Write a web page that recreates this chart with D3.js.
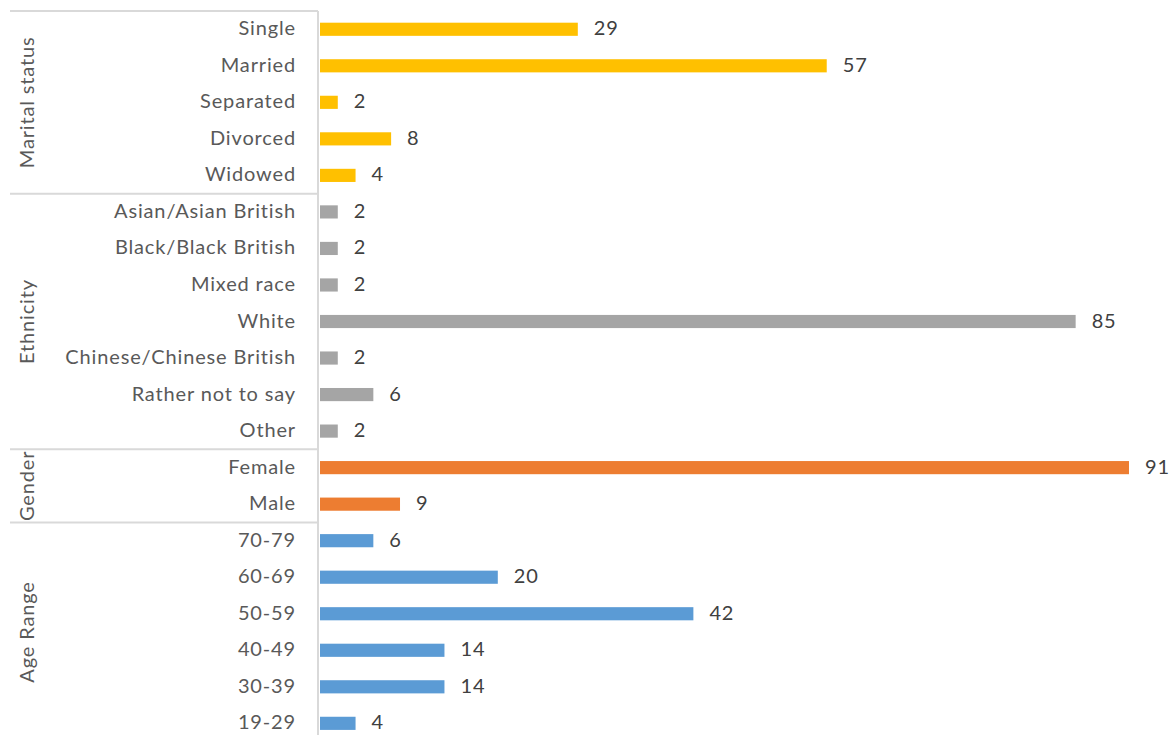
<!DOCTYPE html>
<html>
<head>
<meta charset="utf-8">
<script src="https://cdn.jsdelivr.net/npm/d3@7"></script>
<style>
  body { margin: 0; background: #fff; }
  svg text { font-family: Lato, "Noto Sans", sans-serif; letter-spacing: 0.85px; }
</style>
</head>
<body>
<div id="chart"></div>
<script>
const w = 1173;
const h = 735;

// groups, top to bottom
const groupNames = ["Marital status", "Ethnicity", "Gender", "Age Range"];
const groupColors = ["#FFC000", "#A5A5A5", "#ED7D31", "#5B9BD5"];

const maritalCats = ["Single", "Married", "Separated", "Divorced", "Widowed"];
const maritalVals = [29, 57, 2, 8, 4];

const ethnicCats = ["Asian/Asian British", "Black/Black British", "Mixed race", "White",
    "Chinese/Chinese British", "Rather not to say", "Other"];
const ethnicVals = [2, 2, 2, 85, 2, 6, 2];

const genderCats = ["Female", "Male"];
const genderVals = [91, 9];

const ageCats = ["70-79", "60-69", "50-59", "40-49", "30-39", "19-29"];
const ageVals = [6, 20, 42, 14, 14, 4];

const groupCats = [maritalCats, ethnicCats, genderCats, ageCats];
const groupVals = [maritalVals, ethnicVals, genderVals, ageVals];

// flatten into rows
var rows = [];
groupCats.forEach(function(cats, g) {
    cats.forEach(function(c, i) {
        rows.push({ cat: c, value: groupVals[g][i], group: g });
    });
});

const plotTop = 11;
const axisX = 318;
const step = 36.53;

var svg = d3.select("#chart").append("svg")
    .attr("width", w)
    .attr("height", h);

var y = d3.scaleBand()
    .domain(rows.map(d => d.cat))
    .range([plotTop, plotTop + step * rows.length])
    .paddingInner(0.64)
    .paddingOuter(0.32);

var x = d3.scaleLinear()
    .domain([0, 100])
    .range([axisX + 2, axisX + 2 + 889]);

// group separators
var bounds = [];
var idx = 0;
groupCats.forEach(function(cats) {
    bounds.push({ start: idx, end: idx + cats.length });
    idx += cats.length;
});

var rowTop = i => plotTop + step * i;

svg.append("g").selectAll("line")
    .data(bounds)
    .join("line")
    .attr("x1", 10)
    .attr("x2", axisX)
    .attr("y1", d => rowTop(d.start))
    .attr("y2", d => rowTop(d.start))
    .attr("stroke", "#d9d9d9")
    .attr("stroke-width", 2);

// axis line
svg.append("line")
    .attr("x1", axisX).attr("x2", axisX)
    .attr("y1", plotTop).attr("y2", h)
    .attr("stroke", "#d9d9d9")
    .attr("stroke-width", 2);

// group labels
svg.append("g").selectAll("text")
    .data(bounds)
    .join("text")
    .attr("transform", function(d, i) {
        var cy = (rowTop(d.start) + rowTop(d.end)) / 2;
        return "translate(34," + cy + ") rotate(-90)";
    })
    .attr("text-anchor", "middle")
    .attr("font-size", 20)
    .attr("fill", "#595959")
    .text((d, i) => groupNames[i]);

// category labels
svg.append("g").selectAll("text")
    .data(rows)
    .join("text")
    .attr("x", 296)
    .attr("y", d => y(d.cat) + y.bandwidth() / 2 - 1)
    .attr("dy", "0.35em")
    .attr("text-anchor", "end")
    .attr("font-size", 20)
    .attr("fill", "#595959")
    .text(d => d.cat);

// bars
svg.append("g").selectAll("rect")
    .data(rows)
    .join("rect")
    .attr("x", x(0))
    .attr("y", d => y(d.cat))
    .attr("width", d => x(d.value) - x(0))
    .attr("height", y.bandwidth())
    .attr("fill", d => groupColors[d.group]);

// value labels
svg.append("g").selectAll("text")
    .data(rows)
    .join("text")
    .attr("x", d => x(d.value) + 16)
    .attr("y", d => y(d.cat) + y.bandwidth() / 2 - 1)
    .attr("dy", "0.35em")
    .attr("font-size", 20)
    .attr("fill", "#404040")
    .text(d => d.value);
</script>
</body>
</html>
